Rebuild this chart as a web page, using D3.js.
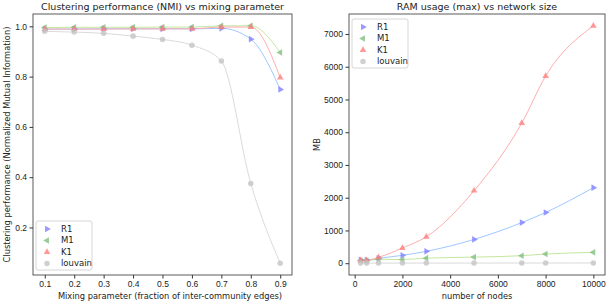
<!DOCTYPE html>
<html>
<head>
<meta charset="utf-8">
<script src="https://cdn.jsdelivr.net/npm/d3@7"></script>
<style>
  body { margin: 0; background: #fff; }
  svg { font-family: "DejaVu Sans", sans-serif; }
  .axis path, .axis line { stroke: #333; }
  .axis text { fill: #222; font-size: 8.5px; }
</style>
</head>
<body>
<div id="chart"></div>
<script>
// left panel: NMI vs mixing parameter
const mixing = [0.1, 0.2, 0.3, 0.4, 0.5, 0.6, 0.7, 0.8, 0.9];
const nmiR1 = [0.989, 0.989, 0.99, 0.99, 0.99, 0.99, 0.992, 0.949, 0.749];
const nmiM1 = [0.995, 0.996, 0.996, 0.996, 0.997, 0.997, 1.002, 1.002, 0.896];
const nmiK1 = [0.989, 0.989, 0.989, 0.99, 0.99, 0.99, 0.997, 0.997, 0.796];
const nmiLouvain = [0.98, 0.977, 0.972, 0.961, 0.948, 0.925, 0.862, 0.375, 0.058];

// right panel: RAM usage vs network size
const nodes = [250, 500, 1000, 2000, 3000, 5000, 7000, 8000, 10000];
const ramR1 = [100, 95, 150, 240, 363, 726, 1240, 1550, 2307];
const ramM1 = [80, 80, 120, 110, 155, 186, 229, 280, 332];
const ramK1 = [90, 90, 180, 465, 806, 2214, 4279, 5713, 7248];
const ramLouvain = [3, 3, 4, 4, 5, 5, 6, 6, 7];

const labels = ["R1", "M1", "K1", "louvain"];
const markerColors = ["#7f7fff", "#7fbf7f", "#ff8080", "#c4c4c4"];
const lineColors = ["#92c2ff", "#bce495", "#ffa3a3", "#d6d6d6"];
const markerTypes = ["right", "left", "up", "circle"];

const width = 616, height = 302;

const svg = d3
  .select("#chart")
  .append("svg")
  .attr("width", width)
  .attr("height", height);

const marker = (type) => {
  if (type === "circle") return d3.symbol(d3.symbolCircle, 24)();
  return d3.symbol(d3.symbolTriangle, 19)();
};
const rot = { up: 0, right: 90, left: -90, circle: 0 };

const drawPanel = (opts) => {
  const { x0, x1, y0, y1, xDomain, yDomain, xs, series, xTicks, yTicks, fmtX, fmtY } = opts;
  const xScale = d3.scaleLinear().domain(xDomain).range([x0, x1]);
  const yScale = d3.scaleLinear().domain(yDomain).range([y1, y0]);

  const g = svg.append("g");

  // lines first, then markers on top
  series.forEach((vals, i) => {
    const pts = xs.map((x, j) => [x, vals[j]]);
    g.append("path")
      .datum(pts)
      .attr("fill", "none")
      .attr("stroke", lineColors[i])
      .attr("stroke-width", 0.9)
      .attr("d", d3.line().x((d) => xScale(d[0])).y((d) => yScale(d[1])).curve(d3.curveMonotoneX));
  });
  series.forEach((vals, i) => {
    g.append("g")
      .selectAll("path")
      .data(xs.map((x, j) => [x, vals[j]]))
      .enter()
      .append("path")
      .attr("d", marker(markerTypes[i]))
      .attr("fill", markerColors[i])
      .attr("fill-opacity", 0.8)
      .attr("transform", (d) => `translate(${xScale(d[0])},${yScale(d[1])}) rotate(${rot[markerTypes[i]]})`);
  });

  // frame
  g.append("rect")
    .attr("x", x0).attr("y", y0)
    .attr("width", x1 - x0).attr("height", y1 - y0)
    .attr("fill", "none").attr("stroke", "#333").attr("stroke-width", 0.8);

  g.append("g")
    .attr("class", "axis")
    .attr("transform", `translate(0,${y1})`)
    .call(d3.axisBottom(xScale).tickValues(xTicks).tickFormat(fmtX).tickSize(3.5).tickPadding(2.5))
    .call((a) => a.select(".domain").remove());

  g.append("g")
    .attr("class", "axis")
    .attr("transform", `translate(${x0},0)`)
    .call(d3.axisLeft(yScale).tickValues(yTicks).tickFormat(fmtY).tickSize(3.5).tickPadding(2.5))
    .call((a) => a.select(".domain").remove());

  return { xScale, yScale };
};

const legend = (x, y) => {
  const lg = svg.append("g").attr("transform", `translate(${x},${y})`);
  lg.append("rect")
    .attr("width", 56).attr("height", 49).attr("rx", 2)
    .attr("fill", "#fff").attr("fill-opacity", 0.8)
    .attr("stroke", "#ccc").attr("stroke-width", 0.8);
  labels.forEach((l, i) => {
    lg.append("path")
      .attr("d", marker(markerTypes[i]))
      .attr("fill", markerColors[i])
      .attr("fill-opacity", 0.8)
      .attr("transform", `translate(11,${8 + i * 11.5}) rotate(${rot[markerTypes[i]]})`);
    lg.append("text")
      .attr("x", 25).attr("y", 8 + i * 11.5)
      .attr("dy", "0.35em")
      .attr("font-size", 8.5).attr("fill", "#222")
      .text(l);
  });
};

// Left panel
drawPanel({
  x0: 33, x1: 292, y0: 14, y1: 275,
  xDomain: [0.06, 0.94], yDomain: [0.011, 1.049],
  xs: mixing,
  series: [nmiR1, nmiM1, nmiK1, nmiLouvain],
  xTicks: mixing, yTicks: [0.2, 0.4, 0.6, 0.8, 1.0],
  fmtX: d3.format(".1f"), fmtY: d3.format(".1f")
});
legend(36, 221);

// Right panel
drawPanel({
  x0: 349, x1: 605, y0: 14, y1: 275,
  xDomain: [-237.5, 10487.5], yDomain: [-360, 7610],
  xs: nodes,
  series: [ramR1, ramM1, ramK1, ramLouvain],
  xTicks: [0, 2000, 4000, 6000, 8000, 10000], yTicks: d3.range(0, 7001, 1000),
  fmtX: d3.format("d"), fmtY: d3.format("d")
});
legend(352, 19);

// titles and axis labels
const txt = (x, y, s, size, r) =>
  svg.append("text")
    .attr("transform", `translate(${x},${y})${r ? " rotate(-90)" : ""}`)
    .attr("text-anchor", "middle")
    .attr("font-size", size)
    .attr("fill", "#222")
    .text(s);

txt(162.5, 10, "Clustering performance (NMI) vs mixing parameter", 9.5);
txt(477, 10, "RAM usage (max) vs network size", 9.5);
txt(170, 299, "Mixing parameter (fraction of inter-community edges)", 8.3);
txt(477, 299, "number of nodes", 8.3);
txt(10, 144.5, "Clustering performance (Normalized Mutual Information)", 8.3, true);
txt(320, 144.5, "MB", 8.3, true);
</script>
</body>
</html>
